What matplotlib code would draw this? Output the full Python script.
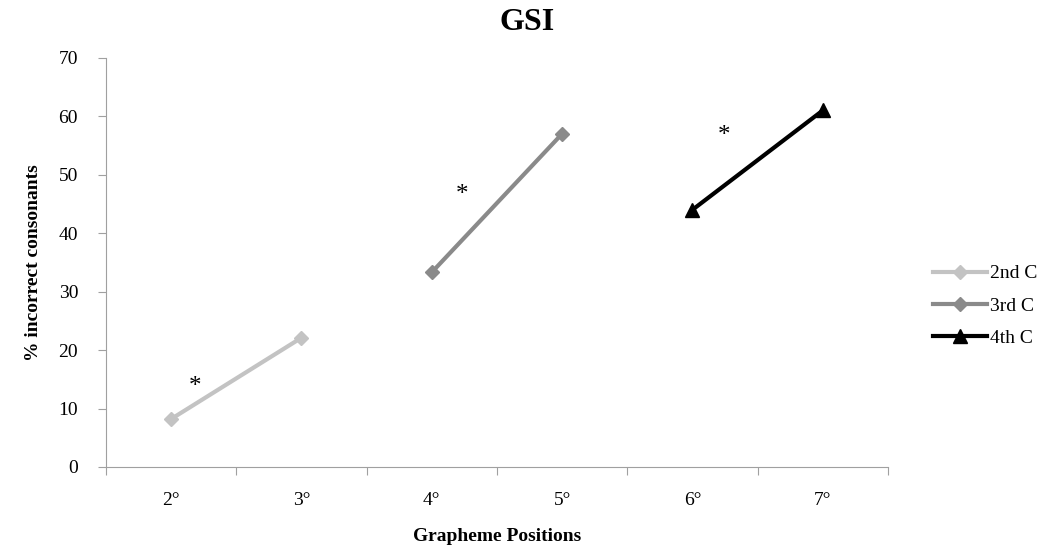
import numpy as np
import matplotlib.pyplot as plt

# Data
positions = ['2°', '3°', '4°', '5°', '6°', '7°']
series_names = ['2nd C', '3rd C', '4th C']
series_x = [[0, 1], [2, 3], [4, 5]]
series_y = [[8.2, 22.1], [33.3, 57.0], [44.0, 61.0]]
star_x = [0.18, 2.23, 4.24]
star_y = [13.6, 46.6, 56.6]

colors = ['#c3c3c3', '#8a8a8a', '#000000']
markers = ['D', 'D', '^']
msizes = [7, 7, 10]

plt.rcParams['font.family'] = ['Liberation Serif', 'DejaVu Serif']

fig = plt.figure(figsize=(10.59, 5.47), dpi=100)
ax = fig.add_axes([0.100, 0.1463, 0.7385, 0.748])

for i in range(3):
    ax.plot(series_x[i], series_y[i], color=colors[i], lw=3, marker=markers[i],
            ms=msizes[i], label=series_names[i])

for x, y in zip(star_x, star_y):
    ax.text(x, y, '*', fontsize=18, ha='center', va='center')

ax.set_xlim(-0.5, len(positions) - 0.5)
ax.set_ylim(0, 70)
ax.set_xticks(np.arange(-0.5, len(positions)), minor=False)
ax.set_xticklabels([])
ax.set_xticks(np.arange(len(positions)), minor=True)
ax.set_xticklabels(positions, minor=True, fontsize=14)
ax.tick_params(axis='x', which='minor', length=0, pad=18)
ax.tick_params(axis='x', which='major', length=6, color='#a0a0a0')
ax.set_yticks(np.arange(0, 71, 10))
ax.tick_params(axis='y', labelsize=14, length=6, color='#a0a0a0', pad=14)

for s in ['top', 'right']:
    ax.spines[s].set_visible(False)
for s in ['left', 'bottom']:
    ax.spines[s].set_color('#a0a0a0')

ax.set_ylabel('% incorrect consonants', fontsize=14, fontweight='bold', labelpad=12)
ax.set_xlabel('Grapheme Positions', fontsize=14, fontweight='bold', labelpad=14)
fig.text(0.4976, 0.958, 'GSI', fontsize=23, fontweight='bold', ha='center', va='center')

ax.legend(loc='center left', bbox_to_anchor=(1.035, 0.394), frameon=False,
          fontsize=14, handlelength=2.8, handletextpad=0.15, labelspacing=0.75)

fig.savefig('out.png', dpi=100)
